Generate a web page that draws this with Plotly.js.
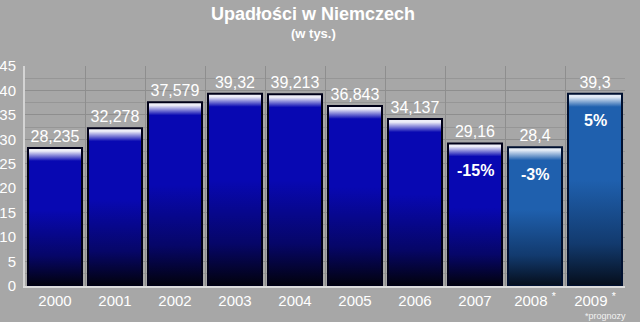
<!DOCTYPE html>
<html>
<head>
<meta charset="utf-8">
<script src="https://cdn.plot.ly/plotly-3.0.1.min.js"></script>
<style>html,body{margin:0;padding:0;background:#a7a7a7;}</style>
</head>
<body>
<div id="chart" style="width:640px;height:322px;"></div>
<script>
const years = ['2000','2001','2002','2003','2004','2005','2006','2007','2008','2009'];
const tickLabels = ['2000','2001','2002','2003','2004','2005','2006','2007','2008 <sup>*</sup>','2009 <sup>*</sup>'];
const values = [28.235, 32.278, 37.579, 39.32, 39.213, 36.843, 34.137, 29.16, 28.4, 39.3];
const changeLabels = ['', '', '', '', '', '', '', '-15%', '-3%', '5%'];
const forecast = [false, false, false, false, false, false, false, false, true, true];
const footnote = '*prognozy';
const titleText = 'Upadłości w Niemczech';
const subtitleText = '(w tys.)';

const FONT = 'Liberation Sans, Arial, sans-serif';
const valueLabels = values.map(v => String(v).replace('.', ','));
const palettes = {
  actual:   {hi:'#eeeef8', mid:'#0808b2', low:'#060668', bottom:'#02020c', line:'#000018'},
  forecast: {hi:'#e4ecf6', mid:'#1f60ae', low:'#123a6e', bottom:'#050d1a', line:'#001030'}
};
const pal = forecast.map(f => f ? palettes.forecast : palettes.actual);

const trace = {
  type: 'bar',
  x: years,
  y: values,
  text: valueLabels,
  textposition: 'outside',
  cliponaxis: false,
  textfont: {family: FONT, size: 16, color: '#ffffff'},
  marker: {color: pal.map(p => p.mid), line: {color: pal.map(p => p.line), width: 2}},
  hoverinfo: 'none'
};

const annotations = [];
years.forEach((c, i) => {
  if (changeLabels[i]) {
    annotations.push({x: i, y: values[i], xref: 'x', yref: 'y', yshift: -27, yanchor: 'middle',
      text: '<b>' + changeLabels[i] + '</b>', showarrow: false,
      font: {family: FONT, size: 16, color: '#ffffff'}});
  }
});
annotations.push({xref: 'paper', yref: 'paper', x: 1.005, y: -0.135, xanchor: 'right', yanchor: 'middle',
  text: footnote, showarrow: false, font: {family: FONT, size: 9, color: '#f2f2f2'}});
annotations.push({xref: 'paper', yref: 'paper', x: 0.48, y: 1.236, xanchor: 'center', yanchor: 'middle',
  text: '<b>' + titleText + '</b>', showarrow: false, font: {family: FONT, size: 18, color: '#ffffff'}});
annotations.push({xref: 'paper', yref: 'paper', x: 0.48, y: 1.148, xanchor: 'center', yanchor: 'middle',
  text: '<b>' + subtitleText + '</b>', showarrow: false, font: {family: FONT, size: 13, color: '#ffffff'}});

const layout = {
  width: 640, height: 322,
  margin: {l: 25, r: 15, t: 66, b: 36},
  paper_bgcolor: '#a7a7a7',
  plot_bgcolor: '#a7a7a7',
  showlegend: false,
  bargap: 0.1,
  font: {family: FONT, color: '#ffffff'},
  xaxis: {
    type: 'category',
    range: [-0.5, years.length - 0.5],
    tickvals: years, ticktext: tickLabels,
    tickson: 'boundaries',
    showgrid: true, gridcolor: '#8e8e8e', gridwidth: 1,
    ticks: '',
    showline: true, linecolor: '#dcdcdc', linewidth: 2,
    tickfont: {size: 15, color: '#ffffff'},
    zeroline: false, fixedrange: true
  },
  yaxis: {
    range: [0, 45], dtick: 5, tick0: 0,
    showgrid: true, gridcolor: '#8e8e8e', gridwidth: 1,
    minor: {dtick: 2.5, showgrid: true, gridcolor: '#969696', gridwidth: 1},
    showline: true, linecolor: '#d4d4d4', linewidth: 2,
    ticks: '', ticklabelstandoff: 4,
    tickfont: {size: 15, color: '#ffffff'},
    zeroline: false, fixedrange: true
  },
  annotations: annotations
};

Plotly.newPlot('chart', [trace], layout, {displayModeBar: false, staticPlot: true}).then(gd => {
  const svg = gd.querySelector('svg.main-svg');
  const ns = 'http://www.w3.org/2000/svg';
  let defs = svg.querySelector('defs');
  if (!defs) { defs = document.createElementNS(ns, 'defs'); svg.insertBefore(defs, svg.firstChild); }
  const paths = gd.querySelectorAll('.barlayer .point path');
  paths.forEach((p, i) => {
    const bb = p.getBBox();
    const h = Math.max(bb.height, 1);
    const p0 = pal[i];
    const g = document.createElementNS(ns, 'linearGradient');
    g.setAttribute('id', 'barGrad' + i);
    g.setAttribute('x1', '0'); g.setAttribute('y1', '0');
    g.setAttribute('x2', '0'); g.setAttribute('y2', '1');
    const stops = [
      [0, p0.hi],
      [Math.min(3 / h, 0.2), p0.hi],
      [Math.min(13 / h, 0.3), p0.mid],
      [0.45, p0.mid],
      [0.78, p0.low],
      [1, p0.bottom]
    ];
    stops.forEach(s => {
      const st = document.createElementNS(ns, 'stop');
      st.setAttribute('offset', s[0]);
      st.setAttribute('stop-color', s[1]);
      g.appendChild(st);
    });
    defs.appendChild(g);
    p.style.fill = 'url(#barGrad' + i + ')';
  });
});
</script>
</body>
</html>
